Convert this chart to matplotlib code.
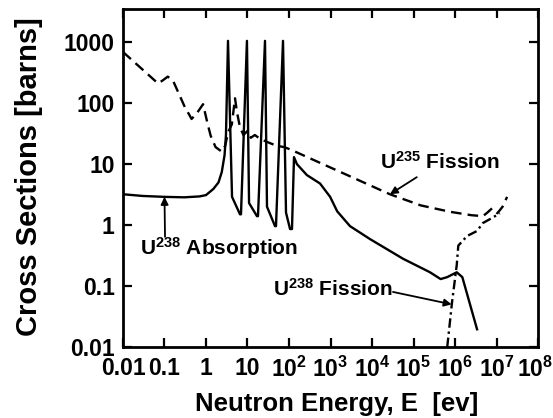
import matplotlib
matplotlib.use('Agg')
import matplotlib.pyplot as plt
import matplotlib.transforms as mtransforms

plt.rcParams['font.family'] = ['Liberation Sans', 'DejaVu Sans']
plt.rcParams['font.weight'] = 'bold'
plt.rcParams['mathtext.fontset'] = 'custom'
plt.rcParams['mathtext.rm'] = 'Liberation Sans:bold'
plt.rcParams['mathtext.bf'] = 'Liberation Sans:bold'
plt.rcParams['mathtext.it'] = 'Liberation Sans:bold'
plt.rcParams['mathtext.default'] = 'rm'

# U-235 fission cross section (dashed)
u235_fis_E = [0.01, 0.07, 0.09, 0.12, 0.16, 0.3, 0.45, 0.6, 0.85, 1.1, 1.3, 1.7, 2.4,
              2.9, 3.4, 4.2, 5.0, 5.6, 6.6, 8.0, 10.0, 12.0, 15.0, 20.0, 30.0, 50.0,
              76.0, 105.0, 2.7e4, 1.5e5, 7.6e5, 2.5e6, 4.7e6, 6.0e6, 7.8e6, 1.05e7,
              1.4e7, 1.8e7]
u235_fis_xs = [690, 210, 235, 272, 235, 90, 55, 68, 96, 45, 29, 19, 16,
               20, 33, 45, 120, 70, 40, 30, 35, 27, 30, 26, 23, 20,
               19, 17.5, 3.2, 2.1, 1.65, 1.45, 1.4, 1.6, 1.88, 1.56,
               2.0, 2.9]

# U-238 absorption cross section (solid)
u238_abs_E = [0.01, 0.03, 0.1, 0.3, 0.7, 1.0, 1.5, 2.0, 2.4, 2.8, 3.03, 3.39, 4.24,
              6.6, 6.97, 9.7, 10.9, 16.9, 17.9, 26.4, 29.5, 46.0, 48.6, 71.7, 84.7,
              106.0, 118.0, 132.0, 155.0, 270.0, 560.0, 980.0, 1450.0, 2950.0,
              8900.0, 5.6e4, 2.5e5, 4.5e5, 6.5e5, 1.1e6, 1.5e6, 3.4e6]
u238_abs_xs = [3.2, 3.0, 2.9, 2.85, 2.95, 3.1, 3.9, 5.0, 7.4, 14, 30, 1050, 2.9,
               1.5, 1.5, 1050, 2.3, 1.4, 1.4, 1050, 2.0, 0.96, 0.96, 1050, 1.6,
               0.86, 0.86, 13, 10, 6.6, 4.8, 2.9, 1.68, 0.96,
               0.59, 0.28, 0.168, 0.13, 0.14, 0.168, 0.14, 0.0195]

# U-238 fission cross section (dash-dot)
u238_fis_E = [6.5e5, 8.5e5, 1.1e6, 1.2e6, 1.95e6, 3.4e6, 4.7e6, 7.7e6, 1.2e7]
u238_fis_xs = [0.01, 0.055, 0.22, 0.46, 0.66, 0.8, 1.08, 1.3, 1.56]

xtick_vals = [1e-2, 1e-1, 1e0, 1e1, 1e2, 1e3, 1e4, 1e5, 1e6, 1e7, 1e8]
xtick_labels = ['0.01', '0.1', '1', '10', '$10^2$', '$10^3$', '$10^4$',
                '$10^5$', '$10^6$', '$10^7$', '$10^8$']
ytick_vals = [0.01, 0.1, 1, 10, 100, 1000]
ytick_labels = ['0.01', '0.1', '1', '10', '100', '1000']

fig = plt.figure(figsize=(5.53, 4.18), dpi=100)
ax = fig.add_axes([0.2224, 0.1699, 0.7505, 0.8086])

ax.plot(u235_fis_E, u235_fis_xs, color='black', lw=1.7, dashes=[4.5, 2.6])
ax.plot(u238_abs_E, u238_abs_xs, color='black', lw=1.7)
ax.plot(u238_fis_E, u238_fis_xs, color='black', lw=1.7, dashes=[4.0, 1.6, 1.0, 1.6])

ax.set_xscale('log')
ax.set_yscale('log')
ax.set_xlim(1e-2, 1e8)
ax.set_ylim(0.01, 3500)
ax.set_xticks(xtick_vals)
ax.set_xticklabels(xtick_labels)
ax.set_yticks(ytick_vals)
ax.set_yticklabels(ytick_labels)
ax.minorticks_off()
ax.tick_params(which='major', direction='in', length=6.5, width=1.6,
               top=True, right=True, labelsize=16.5)
ax.tick_params(axis='x', pad=7)
ax.tick_params(axis='y', pad=6)
for s in ax.spines.values():
    s.set_linewidth(2.0)

# last x label sits right at the figure edge, nudge it in a bit
last = ax.get_xticklabels()[-1]
last.set_transform(last.get_transform() +
                   mtransforms.ScaledTranslation(-3 / 100, 0, fig.dpi_scale_trans))

fig.text(337 / 553, 1 - 404 / 418, 'Neutron Energy, E  [ev]', ha='center', va='center',
         fontsize=18.5, fontweight='bold')
fig.text(29 / 553, 1 - 177 / 418, 'Cross Sections [barns]', ha='center', va='center',
         rotation=90, fontsize=21, fontweight='bold')

arrow = dict(arrowstyle='-|>', color='black', lw=1.3, mutation_scale=11,
             shrinkA=0, shrinkB=0)

ax.text(1.55e4, 11, 'U$^{235}$ Fission', fontsize=15, fontweight='bold',
        ha='left', va='center')
ax.annotate('', xy=(2.7e4, 3.2), xytext=(1.2e5, 6.1), arrowprops=arrow)

ax.text(0.026, 0.42, 'U$^{238}$ Absorption', fontsize=15, fontweight='bold',
        ha='left', va='center')
ax.annotate('', xy=(0.1, 2.9), xytext=(0.103, 0.64), arrowprops=arrow)

ax.text(41, 0.089, 'U$^{238}$ Fission', fontsize=15, fontweight='bold',
        ha='left', va='center')
ax.annotate('', xy=(8.3e5, 0.05), xytext=(3.2e4, 0.08), arrowprops=arrow)

fig.savefig('out.png', dpi=100)
